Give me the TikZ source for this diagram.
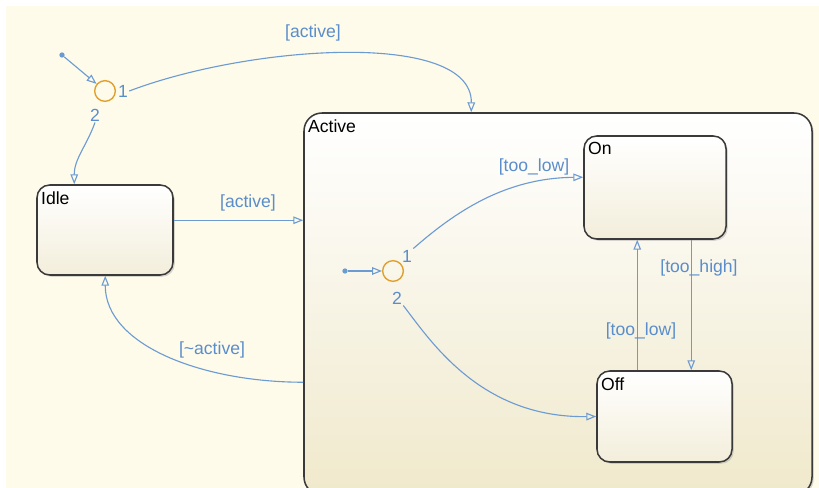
\documentclass[tikz,border=0pt]{standalone}
\usepackage{fontspec}
\setmainfont{Liberation Sans}
\usetikzlibrary{arrows.meta, positioning, fit, calc, shadows}

\definecolor{chartbg}{HTML}{FEFBEA}
\definecolor{statebot}{HTML}{F3EEDB}
\definecolor{activebot}{HTML}{F0E9CC}
\definecolor{transblue}{HTML}{6C9BD2}
\definecolor{labelblue}{HTML}{5A8DCB}
\definecolor{juncorange}{HTML}{E0A02E}
\definecolor{borderdark}{HTML}{3A3A3A}

\tikzset{
  state/.style = {draw=borderdark, line width=1.3pt, rounded corners=0.38cm, inner sep=0pt,
    top color=white, bottom color=statebot,
    drop shadow={shadow xshift=1.5pt, shadow yshift=-1.5pt, opacity=0.3}},
  title/.style = {anchor=north west, inner sep=0pt, xshift=4pt, yshift=-6pt,
    font=\fontsize{15}{18}\selectfont},
  trans/.style = {draw=transblue, line width=0.95pt, -{Triangle[open, length=8.5pt, width=6.5pt]}},
  guard/.style = {text=labelblue, font=\fontsize{15}{18}\selectfont, inner sep=1pt},
  junction/.style = {circle, draw=juncorange, line width=1.2pt, minimum size=0.62cm, inner sep=0pt},
  dot/.style = {circle, fill=transblue, minimum size=4.5pt, inner sep=0pt}
}

\begin{document}
\begin{tikzpicture}[x=0.03cm, y=-0.03cm]

    \useasboundingbox (0,0) rectangle (819,488);
    \clip (0,0) rectangle (819,488);
    \fill[chartbg] (6,6) rectangle (819,488);

    %% States

    % Superstate
    \node[state, rounded corners=0.54cm, bottom color=activebot, fit={(304,113) (812,495)},
      label={[title]north west:Active}] (active) {};
    \node[state, fit={(37,185) (173,275)}, label={[title]north west:Idle}] (idle) {};

    % Substates
    \node[state, fit={(584,136) (726,239)}, label={[title]north west:On}] (on) {};
    \node[state, fit={(597,371) (732,462)}, label={[title]north west:Off}] (off) {};

    %% Top level transitions

    % Junction
    \node[dot] (init) at (62,55) {};
    \node[junction] (jtop) at (105,91) {};
    \node[guard] (jtop-1) at (123,91) {1};
    \node[guard] (jtop-2) at (95,115) {2};
    \draw[trans] (init) -- (jtop);

    \draw[trans] (jtop-1.east) .. controls (250,45) and (472,30) .. ($(active.north west)+(168,0)$);
    \node[guard] (g-top) at (313,33) {[active]};
    \draw[trans] (jtop-2.south) to[out=-110, in=90] ($(idle.north west)+(38,0)$);

    % Idle <-> Active
    \draw[trans] ($(idle.north east)+(0,36)$) coordinate (idle-out) -- (idle-out -| active.west);
    \node[guard] (g-idle) at (248,203) {[active]};
    \draw[trans] ($(active.north west)+(0,270)$) .. controls +(-100,0) and +(0,70) .. ($(idle.south west)+(69,0)$);
    \node[guard] (g-back) at (212,350) {[\textasciitilde active]};

    %% Inside Active

    % Junction
    \node[dot] (init-in) at (345,271) {};
    \node[junction] (jin) at (393,271) {};
    \node[guard] (jin-1) at (407,256) {1};
    \node[guard] (jin-2) at (397,298) {2};
    \draw[trans] (init-in) -- (jin);

    \draw[trans] (jin-1.north east) .. controls (455,212) and (505,178) .. ($(on.north west)+(0,42)$);
    \node[guard] (g-on) at (534,167) {[too\_low]};
    \draw[trans] (jin-2.south east) .. controls (430,340) and (480,418) .. (off.west);

    % On <-> Off
    \draw[trans] ($(on.south west)+(108,0)$) -- ($(off.north west)+(95,0)$);
    \node[guard] (g-high) at (699,268) {[too\_high]};
    \draw[trans] ($(off.north west)+(41,0)$) -- ($(on.south west)+(54,0)$);
    \node[guard] (g-low) at (641,331) {[too\_low]};

\end{tikzpicture}
\end{document}
